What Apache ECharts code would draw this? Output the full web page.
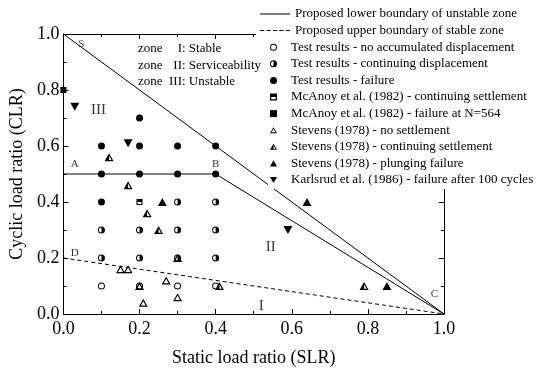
<!DOCTYPE html>
<html>
<head>
<meta charset="utf-8">
<script src="https://cdn.jsdelivr.net/npm/echarts@6/dist/echarts.min.js"></script>
<style>
  html, body { margin: 0; padding: 0; background: #fff; }
  #chart { width: 539px; height: 372px; }
</style>
</head>
<body>
<div id="chart"></div>
<script>
// boundary lines
const lowerUnstableSC = [[0, 1], [1, 0]];
const lowerUnstableABC = [[0, 0.5], [0.4, 0.5], [1, 0]];
const upperStableDC = [[0, 0.2], [1, 0]];

// test results
const testNoDisp = [[0.1, 0.1], [0.2, 0.1], [0.3, 0.1], [0.4, 0.1]];
const testContDisp = [[0.1, 0.3], [0.1, 0.2], [0.2, 0.3], [0.2, 0.2], [0.3, 0.4], [0.3, 0.3],
  [0.3, 0.2], [0.4, 0.4], [0.4, 0.3], [0.4, 0.2]];
const testFailure = [[0.1, 0.6], [0.2, 0.7], [0.2, 0.6], [0.3, 0.6], [0.4, 0.6],
  [0.1, 0.5], [0.2, 0.5], [0.3, 0.5], [0.4, 0.5], [0.1, 0.4]];

// literature
const mcAnoyCont = [[0.2, 0.4]];
const mcAnoyFail = [[0.0, 0.8]];
const stevensNo = [[0.15, 0.16], [0.17, 0.16], [0.2, 0.1], [0.21, 0.04], [0.27, 0.12], [0.3, 0.2], [0.3, 0.06]];
const stevensCont = [[0.12, 0.56], [0.17, 0.46], [0.22, 0.36], [0.25, 0.3], [0.41, 0.1], [0.79, 0.1]];
const stevensPlunge = [[0.26, 0.4], [0.64, 0.4], [0.85, 0.1]];
const karlsrud = [[0.03, 0.74], [0.17, 0.61], [0.59, 0.3]];

// point letters and zone numerals
const letterText = ['S', 'A', 'B', 'C', 'D'];
const letterPos = [[0.047, 0.965], [0.03, 0.535], [0.4, 0.535], [0.975, 0.072], [0.03, 0.218]];
const zoneText = ['III', 'II', 'I'];
const zonePos = [[0.092, 0.73], [0.545, 0.24], [0.52, 0.03]];

const zoneNum = ['I', 'II', 'III'];
const zoneName = ['Stable', 'Serviceability', 'Unstable'];

const lineNames = [
  'Proposed lower boundary of unstable zone',
  'Proposed upper boundary of stable zone'
];
const markNames = [
  'Test results - no accumulated displacement',
  'Test results - continuing displacement',
  'Test results - failure',
  'McAnoy et al. (1982) - continuing settlement',
  'McAnoy et al. (1982) - failure at N=564',
  'Stevens (1978) - no settlement',
  'Stevens (1978) - continuing settlement',
  'Stevens (1978) - plunging failure',
  'Karlsrud et al. (1986) - failure after 100 cycles'
];

const FONT = 'Liberation Serif, Times New Roman, serif';

// symbol shapes
const ringCircle = 'M0 50 A50 50 0 1 1 100 50 A50 50 0 1 1 0 50 Z M14 50 A36 36 0 1 0 86 50 A36 36 0 1 0 14 50 Z';
const openCircle = 'path://' + ringCircle;
const halfCircle = 'path://' + ringCircle + ' M50 14 A36 36 0 0 1 50 86 Z';
const ringTri = 'M50 0 L100 87 L0 87 Z M50 26 L22.5 74 L77.5 74 Z';
const openTri = 'path://' + ringTri;
const halfTri = 'path://' + ringTri + ' M50 26 L50 74 L22.5 74 Z';
const fullTri = 'path://M50 0 L100 87 L0 87 Z';
const downTri = 'path://M0 0 L100 0 L50 87 Z';
const halfSquare = 'path://M0 0 L100 0 L100 100 L0 100 Z M18 18 L18 82 L82 82 L82 18 Z M18 18 L82 18 L82 50 L18 50 Z';
const solidIcon = 'path://M0 0 L100 0 L100 3.4 L0 3.4 Z';
const dashIcon = 'path://M0 0 h14 v3.4 h-14 Z M21.5 0 h14 v3.4 h-14 Z M43 0 h14 v3.4 h-14 Z M64.5 0 h14 v3.4 h-14 Z M86 0 h14 v3.4 h-14 Z';

const markSymbols = [openCircle, halfCircle, 'circle', halfSquare, 'rect', openTri, halfTri, fullTri, downTri];
const markSizes = [7, 7, 7, 6, 6, [9, 8], [9, 8], [9, 8], [9, 8]];
const markData = [testNoDisp, testContDisp, testFailure, mcAnoyCont, mcAnoyFail,
  stevensNo, stevensCont, stevensPlunge, karlsrud];

const chart = echarts.init(document.getElementById('chart'));

function lineSeries(name, data, dashed) {
  return {
    name: name, type: 'line', data: data, symbol: 'none', silent: true,
    lineStyle: {color: '#000', width: 1, type: dashed ? [4, 3] : 'solid'},
    itemStyle: {color: '#000'}, z: 2
  };
}

function axisCommon(show) {
  return {
    min: 0, max: 1, interval: 0.2,
    axisLine: {show: true, onZero: false, lineStyle: {color: '#000', width: 1}},
    axisTick: {show: true, inside: true, length: 5, lineStyle: {color: '#000'}},
    minorTick: {show: true, splitNumber: 2, length: 3, lineStyle: {color: '#000'}},
    splitLine: {show: false},
    axisLabel: {
      show: show, color: '#000', fontFamily: FONT, fontSize: 18,
      formatter: (v) => v.toFixed(1)
    }
  };
}

const labelData = letterText.map((t, i) => ({
  value: letterPos[i], label: {formatter: t, fontSize: 11}
})).concat(zoneText.map((t, i) => ({
  value: zonePos[i], label: {formatter: t, fontSize: 15}
})));

const legendText = {color: '#000', fontFamily: FONT, fontSize: 13, lineHeight: 14};

// zone description block: "zone", right-aligned numeral, ": name"
const zoneGraphic = [];
zoneNum.forEach((n, i) => {
  const y = 49 + i * 16.5;
  const st = {fontFamily: FONT, fontSize: 13, fill: '#000', verticalAlign: 'middle'};
  zoneGraphic.push(
    {type: 'text', x: 138, y: y, silent: true, style: Object.assign({text: 'zone', align: 'left'}, st)},
    {type: 'text', x: 182, y: y, silent: true, style: Object.assign({text: n, align: 'right'}, st)},
    {type: 'text', x: 182, y: y, silent: true, style: Object.assign({text: ': ' + zoneName[i], align: 'left'}, st)}
  );
});

const option = {
  animation: false,
  backgroundColor: '#fff',
  grid: {left: 63, right: 95, top: 34, bottom: 54},
  xAxis: [
    Object.assign(axisCommon(true), {
      position: 'bottom', name: 'Static load ratio (SLR)', nameLocation: 'middle', nameGap: 35,
      nameTextStyle: {color: '#000', fontFamily: FONT, fontSize: 18},
      axisLabel: Object.assign(axisCommon(true).axisLabel, {margin: 6})
    }),
    Object.assign(axisCommon(false), {position: 'top'})
  ],
  yAxis: [
    Object.assign(axisCommon(true), {
      position: 'left', name: 'Cyclic load ratio (CLR)', nameLocation: 'middle', nameGap: 30,
      nameTextStyle: {color: '#000', fontFamily: FONT, fontSize: 18},
      axisLabel: Object.assign(axisCommon(true).axisLabel, {margin: 4})
    }),
    Object.assign(axisCommon(false), {position: 'right'})
  ],
  legend: [
    {
      data: lineNames.map((n, i) => ({name: n, icon: i === 0 ? solidIcon : dashIcon})),
      orient: 'vertical', left: 256, top: 5,
      itemWidth: 30, itemHeight: 8, itemGap: 2.6,
      backgroundColor: '#fff', padding: [2, 2, 2, 4],
      selectedMode: false, textStyle: legendText
    },
    {
      data: markNames.map((n, i) => ({name: n, icon: markSymbols[i]})),
      orient: 'vertical', left: 268, top: 37.2,
      itemWidth: 7, itemHeight: 7, itemGap: 2.6,
      backgroundColor: '#fff', padding: [3, 2, 2, 2],
      selectedMode: false,
      textStyle: Object.assign({padding: [0, 0, 0, 9]}, legendText)
    }
  ],
  graphic: zoneGraphic,
  series: [
    lineSeries(lineNames[0], lowerUnstableSC, false),
    lineSeries(lineNames[0], lowerUnstableABC, false),
    lineSeries(lineNames[1], upperStableDC, true)
  ].concat(markNames.map((n, i) => ({
    name: n, type: 'scatter', data: markData[i], symbol: markSymbols[i], symbolSize: markSizes[i],
    itemStyle: {color: '#000', opacity: 1}, z: 3, silent: true
  }))).concat([{
    name: 'annotations', type: 'scatter', data: labelData, symbolSize: 0, silent: true, z: 4,
    label: {show: true, position: 'inside', color: '#000', fontFamily: FONT}
  }])
};

chart.setOption(option);
</script>
</body>
</html>
